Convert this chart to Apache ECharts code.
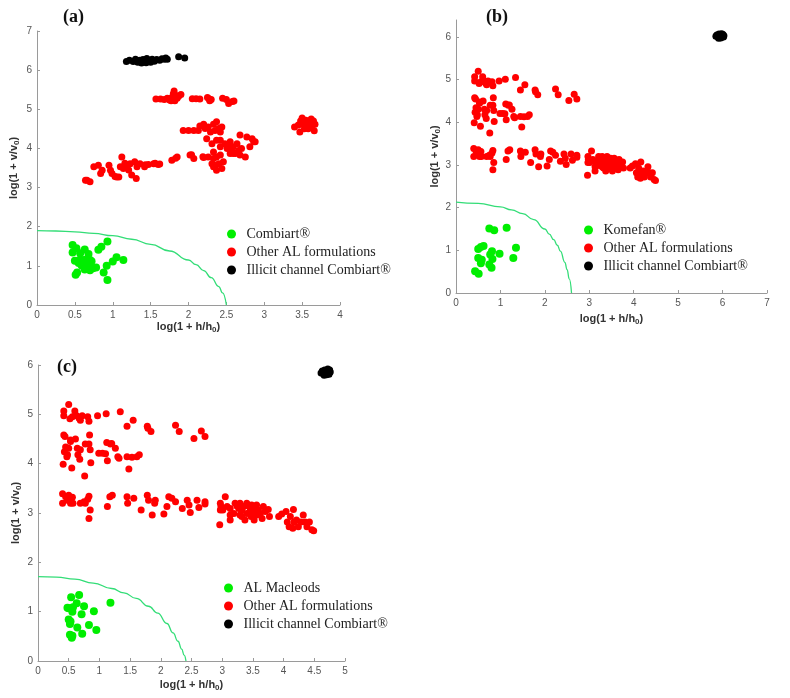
<!DOCTYPE html>
<html>
<head>
<meta charset="utf-8">
<script src="https://cdn.jsdelivr.net/npm/echarts@6/dist/echarts.min.js"></script>
<style>html,body{margin:0;padding:0;background:#fff;}#c{width:790px;height:698px;}</style>
</head>
<body>
<div id="c"></div>
<script>
// ---------- Panel (a) ----------
const aGreen = [[0.47,1.53],[0.47,1.34],[0.52,1.45],[0.57,1.32],[0.63,1.42],[0.68,1.30],[0.50,1.13],[0.54,1.11],[0.56,1.15],[0.59,1.01],[0.66,1.17],[0.70,1.15],[0.72,1.12],[0.66,0.94],[0.70,0.89],[0.74,0.94],[0.63,0.91],[0.78,0.96],[0.51,0.77],[0.53,0.83],[0.81,1.41],[0.85,1.49],[0.93,1.62],[0.92,1.00],[0.88,0.83],[1.00,1.11],[1.05,1.22],[1.14,1.15],[0.93,0.64],[0.68,1.07],[0.61,1.15],[0.55,1.07]];
const aRed = [
 [0.64,3.19],[0.70,3.15],[0.66,3.19],[0.75,3.53],[0.81,3.57],[0.86,3.44],[0.84,3.36],[0.95,3.57],[0.97,3.44],[0.99,3.36],[1.05,3.27],[1.08,3.27],[1.03,3.28],[1.12,3.78],[1.14,3.49],[1.10,3.53],[1.19,3.57],[1.23,3.61],[1.25,3.32],[1.31,3.23],[1.32,3.53],[1.36,3.61],[1.42,3.53],[1.47,3.59],[1.54,3.61],[1.60,3.59],[1.16,3.62],[1.21,3.45],[1.29,3.66],[1.43,3.58],[1.56,3.62],[1.62,3.60],[1.78,3.70],[1.85,3.78],[1.83,3.75],[2.04,3.84],[2.07,3.74],[2.02,3.83],[2.20,3.77],[2.19,3.79],
 [1.57,5.26],[1.63,5.26],[1.68,5.25],[1.72,5.28],[1.75,5.24],[1.78,5.30],[1.80,5.40],[1.81,5.47],[1.83,5.36],[1.85,5.28],[1.87,5.33],[1.90,5.38],[1.82,5.22],[1.77,5.22],[2.05,5.27],[2.10,5.27],[2.15,5.26],[2.25,5.30],[2.28,5.22],[2.30,5.25],[2.27,5.27],[2.45,5.28],[2.50,5.25],[2.53,5.15],[2.58,5.20],[2.60,5.21],
 [1.93,4.46],[2.00,4.46],[2.07,4.46],[2.13,4.46],[2.15,4.57],[2.20,4.62],[2.22,4.51],[2.26,4.55],[2.29,4.42],[2.33,4.62],[2.35,4.46],[2.37,4.68],[2.40,4.51],[2.42,4.42],[2.44,4.55],[2.24,4.25],[2.31,4.12],[2.37,4.21],[2.42,4.04],[2.33,3.91],[2.26,3.78],[2.33,3.74],[2.37,3.78],[2.42,3.83],[2.31,3.61],[2.35,3.57],[2.40,3.61],[2.33,3.53],[2.37,3.44],[2.44,3.49],[2.46,3.66],[2.42,4.21],[2.48,4.12],[2.51,4.00],[2.55,4.17],[2.57,3.91],[2.59,4.04],[2.62,3.87],[2.64,4.12],[2.66,3.95],[2.68,3.83],[2.70,4.00],[2.75,3.78],[2.77,4.29],[2.81,4.04],[2.84,4.25],[2.86,4.17],[2.88,4.17],[2.53,4.04],[2.59,3.87],[2.68,4.34],[2.55,3.87],
 [3.40,4.55],[3.45,4.60],[3.48,4.70],[3.50,4.78],[3.52,4.62],[3.55,4.55],[3.57,4.68],[3.58,4.50],[3.60,4.62],[3.62,4.75],[3.63,4.58],[3.65,4.70],[3.66,4.45],[3.67,4.62],[3.47,4.42],[3.53,4.50],[3.60,4.55],[3.55,4.72]
];
const aBlack = [[1.18,6.22],[1.22,6.25],[1.27,6.22],[1.30,6.28],[1.33,6.20],[1.36,6.25],[1.38,6.18],[1.40,6.27],[1.42,6.22],[1.45,6.30],[1.47,6.24],[1.50,6.20],[1.52,6.28],[1.55,6.23],[1.58,6.27],[1.62,6.25],[1.65,6.29],[1.68,6.28],[1.70,6.31],[1.72,6.28],[1.87,6.34],[1.95,6.31],[1.35,6.24],[1.44,6.19]];
const aCurveX = [0,0.25,0.5,0.75,1,1.25,1.5,1.75,2,2.1,2.2,2.3,2.4,2.45,2.5];
const aCurveY = [1.90,1.89,1.87,1.83,1.77,1.68,1.55,1.38,1.15,1.03,0.88,0.70,0.47,0.31,0];

// ---------- Panels (b) and (c): shared "Other AL formulations" ----------
const bcRed = [
 [0.50,5.20],[0.42,5.07],[0.42,4.97],[0.52,4.91],[0.60,5.07],[0.63,4.97],[0.67,4.92],[0.72,4.97],[0.81,4.95],[0.83,4.86],[0.97,4.97],[1.11,5.01],[1.34,5.05],[1.45,4.76],[1.55,4.88],[1.78,4.76],[1.79,4.72],[1.84,4.65],[2.24,4.78],[2.30,4.65],[2.54,4.51],[2.66,4.66],[2.72,4.55],[0.56,4.95],[0.69,4.88],
 [0.42,4.58],[0.44,4.55],[0.45,4.34],[0.43,4.24],[0.48,4.18],[0.50,4.31],[0.53,4.45],[0.47,4.14],[0.41,3.99],[0.55,3.91],[0.64,4.31],[0.65,4.18],[0.68,4.09],[0.69,4.28],[0.77,4.40],[0.83,4.40],[0.84,4.58],[0.85,4.28],[0.86,4.02],[0.76,3.75],[0.99,4.21],[1.12,4.43],[1.20,4.41],[1.10,4.20],[1.13,4.06],[1.26,4.31],[1.32,4.11],[1.30,4.14],[1.45,4.14],[1.53,4.13],[1.48,3.89],[1.61,4.14],[1.65,4.18],[0.61,4.50],[0.53,4.48],[1.05,4.21],[1.18,4.40],
 [0.40,3.39],[0.40,3.20],[0.45,3.33],[0.48,3.26],[0.50,3.36],[0.53,3.20],[0.56,3.32],[0.57,3.20],[0.69,3.20],[0.75,3.23],[0.77,3.20],[0.81,3.28],[0.83,3.34],[0.85,3.06],[0.83,2.89],[1.13,3.13],[1.17,3.33],[1.21,3.36],[1.45,3.33],[1.46,3.20],[1.56,3.30],[1.68,3.06],[1.78,3.36],[1.80,3.26],[1.86,2.96],[1.91,3.26],[1.90,3.20],[2.05,2.98],[2.10,3.13],[2.13,3.33],[2.18,3.30],[2.24,3.23],[2.35,3.09],[2.43,3.26],[2.46,3.16],[2.48,3.01],[2.59,3.26],[2.62,3.11],[2.72,3.23],[2.72,3.18],
 [2.96,2.76],[2.97,3.20],[2.98,3.13],[3.01,3.06],[3.05,3.33],[3.08,3.13],[3.13,3.09],[3.13,2.86],[3.21,3.20],[3.24,3.14],[3.27,3.09],[3.29,2.96],[3.32,3.06],[3.35,3.13],[3.37,2.86],[3.40,2.99],[3.43,3.14],[3.46,3.06],[3.47,2.93],[3.48,3.16],[3.51,3.03],[3.52,2.86],[3.54,3.09],[3.56,2.96],[3.59,3.06],[3.62,2.99],[3.65,2.89],[3.67,3.13],[3.70,3.03],[3.75,3.07],[3.77,2.93],[3.19,2.99],[3.29,3.20],[3.40,3.20],[3.32,2.93],[3.46,2.99],[3.56,3.16],[3.51,2.96],[3.13,2.96],[2.97,3.06],
 [3.92,2.93],[3.97,2.98],[4.04,3.03],[4.06,2.82],[4.11,2.93],[4.16,3.07],[4.17,2.82],[4.15,2.69],[4.21,2.86],[4.24,2.72],[4.28,2.82],[4.32,2.96],[4.35,2.82],[4.38,2.72],[4.42,2.82],[4.46,2.66],[4.49,2.64],[4.09,2.72]
];

// ---------- Panel (b) ----------
const bGreen = [[0.75,1.51],[0.86,1.47],[1.14,1.53],[0.50,1.03],[0.56,1.08],[0.62,1.10],[0.50,0.82],[0.58,0.78],[0.56,0.70],[0.77,0.90],[0.82,0.80],[0.98,0.92],[0.75,0.67],[0.80,0.59],[1.29,0.82],[1.35,1.06],[0.43,0.51],[0.51,0.45],[0.81,0.98]];
const bBlack = [[5.85,6.02],[5.87,6.05],[5.90,6.00],[5.92,6.07],[5.94,6.03],[5.96,5.98],[5.97,6.05],[5.99,6.01],[6.01,6.06],[6.02,6.00],[5.91,5.97],[5.98,6.08],[5.95,6.03],[5.89,6.04],[6.03,6.03]];
const bCurveX = [0,0.5,1,1.25,1.5,1.75,2,2.1,2.2,2.28,2.35,2.45,2.5,2.55,2.6];
const bCurveY = [2.13,2.10,2.02,1.95,1.86,1.72,1.50,1.38,1.25,1.12,0.98,0.72,0.55,0.33,0];

// ---------- Panel (c) ----------
const cGreen = [[0.48,1.08],[0.54,1.29],[0.67,1.34],[0.63,1.17],[0.57,1.09],[0.56,1.00],[0.75,1.11],[0.71,0.95],[0.50,0.84],[0.53,0.80],[0.52,0.75],[0.64,0.68],[0.83,0.73],[0.91,1.01],[0.95,0.63],[0.72,0.55],[0.52,0.53],[0.56,0.51],[0.55,0.47],[1.18,1.18],[0.50,1.07]];
const cBlack = [[4.61,5.84],[4.63,5.88],[4.65,5.82],[4.67,5.90],[4.68,5.85],[4.70,5.80],[4.71,5.88],[4.73,5.84],[4.75,5.90],[4.76,5.86],[4.66,5.79],[4.72,5.92],[4.69,5.86],[4.64,5.87],[4.74,5.81]];
const cCurveX = [0,0.3,0.6,0.9,1.2,1.4,1.6,1.8,1.95,2.1,2.2,2.28,2.34,2.38,2.41];
const cCurveY = [1.71,1.70,1.66,1.58,1.47,1.38,1.27,1.11,0.97,0.76,0.57,0.40,0.24,0.12,0];

// ---------- Text ----------
const panelTitles = ['(a)','(b)','(c)'];
const greenNames = ['Combiart®','Komefan®','AL Macleods'];
const redName = 'Other AL formulations';
const blackName = 'Illicit channel Combiart®';
const xName = 'log(1 + h/h{sub|0})';
const yName = 'log(1 + v/v{sub|0})';
const bYTicks = [0,1,2,3,4,5,6];

const GREEN = '#00ee00', RED = '#ff0000', BLACK = '#000000', CURVE = '#33dd77';
const zip = (xs, ys) => xs.map((x, i) => [x, ys[i]]);

const axisCommon = {
  type: 'value',
  splitLine: { show: false },
  axisLine: { show: true, onZero: false, lineStyle: { color: '#9a9a9a', width: 1 } },
  axisTick: { show: true, inside: true, length: 3, lineStyle: { color: '#9a9a9a' } },
  axisLabel: { color: '#555', fontSize: 10, fontFamily: 'Liberation Sans', margin: 5 },
  nameLocation: 'middle',
  nameTextStyle: {
    color: '#333', fontSize: 11, fontWeight: 'bold', fontFamily: 'Liberation Sans',
    rich: { sub: { fontSize: 8, fontWeight: 'bold', color: '#333', fontFamily: 'Liberation Sans', verticalAlign: 'bottom', padding: [6, 0, 0, 0] } }
  }
};
function xAx(gi, max, interval, gap) { return Object.assign({}, axisCommon, { gridIndex: gi, min: 0, max: max, interval: interval, name: xName, nameGap: gap }); }
function yAx(gi, max, interval, gap, extra) { return Object.assign({}, axisCommon, { gridIndex: gi, min: 0, max: max, interval: interval, name: yName, nameGap: gap }, extra || {}); }

function scatter(name, data, color, gi, size) {
  return { type: 'scatter', name: name, data: data, xAxisIndex: gi, yAxisIndex: gi, symbolSize: size, itemStyle: { color: color, opacity: 1 }, emphasis: { disabled: true }, silent: true };
}
function curve(xs, ys, gi) {
  return { type: 'line', name: 'boundary' + gi, data: zip(xs, ys), xAxisIndex: gi, yAxisIndex: gi, smooth: true, smoothMonotone: 'x', showSymbol: false, lineStyle: { color: CURVE, width: 1.3 }, silent: true };
}
function legend(gi, left, top) {
  return { orient: 'vertical', left: left, top: top, itemWidth: 20, itemHeight: 9, itemGap: 4, icon: 'circle',
    selectedMode: false, data: [greenNames[gi], redName, blackName],
    textStyle: { fontFamily: 'Liberation Serif', fontSize: 14, color: '#222' } };
}
const titleStyle = { fontFamily: 'Liberation Serif', fontSize: 18, fontWeight: 'bold', color: '#111' };

const chart = echarts.init(document.getElementById('c'), null, { renderer: 'canvas' });
chart.setOption({
  animation: false,
  backgroundColor: '#fff',
  title: [
    { text: panelTitles[0], left: 63, top: 8, padding: 0, textStyle: titleStyle },
    { text: panelTitles[1], left: 486, top: 8, padding: 0, textStyle: titleStyle },
    { text: panelTitles[2], left: 57, top: 358, padding: 0, textStyle: titleStyle }
  ],
  grid: [
    { left: 37, top: 31, width: 303, height: 274 },
    { left: 456, top: 20, width: 311, height: 273 },
    { left: 38, top: 365, width: 307, height: 296 }
  ],
  xAxis: [ xAx(0, 4, 0.5, 15), xAx(1, 7, 1, 19), xAx(2, 5, 0.5, 17) ],
  yAxis: [
    yAx(0, 7, 1, 16),
    yAx(1, 6.4, 1, 14, { axisLabel: Object.assign({}, axisCommon.axisLabel, { customValues: bYTicks }), axisTick: Object.assign({}, axisCommon.axisTick, { customValues: bYTicks }) }),
    yAx(2, 6, 1, 15)
  ],
  legend: [ legend(0, 222, 222), legend(1, 579, 218), legend(2, 219, 576) ],
  series: [
    curve(aCurveX, aCurveY, 0),
    scatter(greenNames[0], aGreen, GREEN, 0, 8),
    scatter(redName, aRed, RED, 0, 7),
    scatter(blackName, aBlack, BLACK, 0, 7),
    curve(bCurveX, bCurveY, 1),
    scatter(greenNames[1], bGreen, GREEN, 1, 8),
    scatter(redName, bcRed, RED, 1, 7),
    scatter(blackName, bBlack, BLACK, 1, 7),
    curve(cCurveX, cCurveY, 2),
    scatter(greenNames[2], cGreen, GREEN, 2, 8),
    scatter(redName, bcRed, RED, 2, 7),
    scatter(blackName, cBlack, BLACK, 2, 7)
  ]
});
</script>
</body>
</html>
